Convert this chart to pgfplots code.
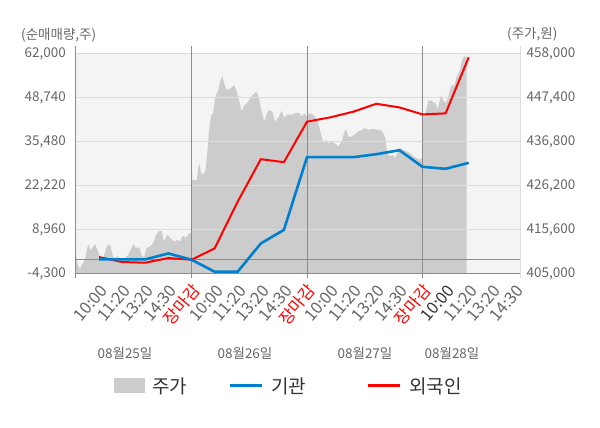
\documentclass[border=0pt]{standalone}
\usepackage{pgfplots}
\pgfplotsset{compat=1.18}
\usepackage{fontspec}
\setmainfont{Noto Sans CJK KR}
\definecolor{bgc}{HTML}{F4F4F4}
\definecolor{areac}{HTML}{CCCCCC}
\definecolor{gridc}{HTML}{DCDCDC}
\definecolor{axc}{HTML}{8C8C8C}
\definecolor{txt}{HTML}{666666}
\definecolor{dark}{HTML}{333333}
\definecolor{blu}{HTML}{0080CC}
\definecolor{rd}{HTML}{FF0000}
\newcommand{\fs}{\fontsize{13.5}{14}\selectfont}
\newcommand{\lfs}{\fontsize{19}{19}\selectfont}
\begin{document}
\begin{tikzpicture}[x=1pt,y=1pt]
\useasboundingbox (0,0) rectangle (600,428);
% price (right axis)
\begin{axis}[at={(76pt,154pt)}, anchor=south west, scale only axis,
  width=444pt, height=220pt, xmin=0, xmax=444, ymin=405000, ymax=458000,
  axis x line=none, axis y line*=right, y axis line style={draw=none},
  ytick={405000,415600,426200,436800,447400,458000},
  yticklabels={{405,000},{415,600},{426,200},{436,800},{447,400},{458,000}},
  major tick length=0pt, scaled y ticks=false,
  yticklabel style={font=\fs, text=txt, inner sep=0pt, xshift=6.5pt},
  axis background/.style={fill=bgc}, clip=true]
\addplot[draw=none, fill=areac] coordinates {
(0,410100)(1.3,407600)(4,406100)(5.7,407200)(9,408400)(10.7,410600)(12.3,412200)(14.7,410800)(17.3,411600)(19,412200)(21.3,410800)(24,409300)(27.3,408700)(30,411200)(32.3,412200)(34.7,411600)(36.7,409300)(39,408800)(41.3,409300)(44,408500)(47.3,408500)(52.3,409600)(54.7,410800)(57.3,412200)(60,411300)(63.3,411400)(65.7,409600)(68,409000)(70.7,411300)(74,411600)(77.3,412500)(80,414400)(82.3,415200)(85.7,415400)(88,412800)(91.3,414400)(94.7,413600)(98,412800)(101.3,413200)(104,412800)(106.7,414200)(110,413800)(113.3,414800)(115,414900)
(115.5,433300)(116.3,427600)(120.7,427600)(122.3,430700)(123.7,431500)(125,429300)(127.3,429100)(129.7,430100)(131.7,435300)(133,439300)(135,443300)(137.3,443700)(139,447300)(140.7,448500)(142.3,449300)(144,451300)(146.3,452700)(148.3,450900)(150.7,449300)(153,449500)(155.7,450000)(158.3,450500)(160.7,448900)(163,446900)(165.7,444100)(168.3,445700)(171.7,446300)(175,447700)(178.3,448500)(180.7,448900)(183,447300)(185.7,444100)(188.3,441700)(190.7,443500)(193,444500)(196.3,444100)(199,441700)(202.3,442700)(205.7,444300)(208.3,442700)(211.7,443500)(215,443300)(219,443700)(223,443900)(225.7,442900)(228.3,443700)(230.7,442900)
(231,443300)(234,443700)(237.3,443300)(240,442500)(242.3,441300)(244.7,438900)(247.3,436500)(250,437300)(252.3,436500)(255.7,436900)(259,436500)(262.3,435700)(265.7,436900)(268,438900)(270,439900)(272.3,438100)(275.7,438100)(279,438700)(282.3,439300)(285.7,439700)(289,440100)(292.3,439700)(295.7,439900)(299,439900)(302.3,439700)(304.7,439700)(307.3,438900)(309.3,437700)(311.3,434100)(314,433300)(316.7,433700)(319,432900)(321.3,434100)(324,435300)(327.3,434900)(330.7,434500)(334,434100)(337.3,433300)(340.7,432900)(344,432500)(346,432900)
(347,443300)(349,443300)(350.7,444900)(352.3,446900)(354,446500)(355.7,446900)(357.3,446300)(359.7,446100)(361.7,444500)(363,446100)(365,448100)(367.3,446900)(369.7,446100)(372.3,447700)(374,449300)(375.7,450500)(377.3,450100)(379,450900)(380.7,452500)(382.3,453300)(384,454100)(385.7,456100)(387.3,457200)(389,457500)(390.7,457200)
} \closedcycle;
\end{axis}
% net buying (left axis)
\begin{axis}[at={(76pt,154pt)}, anchor=south west, scale only axis,
  width=444pt, height=220pt, xmin=0, xmax=444, ymin=-4300, ymax=62000,
  axis x line*=bottom, axis y line*=left, axis line style={draw=axc, line width=1pt},
  ytick={-4300,8960,22220,35480,48740,62000},
  yticklabels={{-4,300},{8,960},{22,220},{35,480},{48,740},{62,000}},
  ymajorgrids, grid style={draw=gridc, line width=1pt},
  major tick length=0pt, scaled y ticks=false,
  yticklabel style={font=\fs, text=txt, inner sep=0pt, xshift=-10pt},
  xtick={23.1,46.2,69.3,92.4,115.5,138.6,161.7,184.8,207.9,231,254.1,277.2,300.3,323.4,346.5,369.6,392.7,415.8,438.9},
  xticklabels={10:00,11:20,13:20,14:30,\textcolor{rd}{장마감},10:00,11:20,13:20,14:30,\textcolor{rd}{장마감},10:00,11:20,13:20,14:30,\textcolor{rd}{장마감},\textcolor{dark}{10:00},11:20,13:20,14:30},
  xticklabel style={font=\fontsize{16.5}{17}\selectfont, text=txt, anchor=base east, inner sep=0pt, xshift=9.5pt, yshift=-17pt, rotate=50},
  clip=false]
\draw[axc, line width=1pt] (axis cs:0,0) -- (axis cs:444,0);
\draw[axc, line width=1pt] (axis cs:0,-5500) -- (axis cs:0,64400);
\draw[gridc, line width=1pt] (axis cs:444,-5500) -- (axis cs:444,64400);
\draw[axc, line width=1pt] (axis cs:115.5,-5500) -- (axis cs:115.5,64400);
\draw[axc, line width=1pt] (axis cs:231,-5500) -- (axis cs:231,64400);
\draw[axc, line width=1pt] (axis cs:346.5,-5500) -- (axis cs:346.5,64400);
\addplot[rd, line width=2pt, mark=none] coordinates {
(23.1,800)(46.2,-700)(69.3,-900)(92.4,500)(115.5,0)(138.6,3400)(161.7,17500)(184.8,30300)(207.9,29400)(231,41600)(254.1,42900)(277.2,44600)(300.3,47000)(323.4,45900)(346.5,43800)(369.6,44100)(392.7,61000)};
\addplot[blu, line width=2.6pt, mark=none] coordinates {
(23.1,100)(46.2,100)(69.3,100)(92.4,1900)(115.5,0)(138.6,-3600)(161.7,-3600)(184.8,4900)(207.9,9000)(231,30900)(254.1,30900)(277.2,30900)(300.3,31800)(323.4,33000)(346.5,28000)(369.6,27400)(392.7,29200)};
\end{axis}
% titles
\node[anchor=west, inner sep=0pt, text=txt, font=\fs] at (21,393) {(순매매량,주)};
\node[anchor=west, inner sep=0pt, text=txt, font=\fs] at (507,394) {(주가,원)};
% day labels
\node[text=txt, font=\fs, inner sep=0pt] at (125,75) {08월25일};
\node[text=txt, font=\fs, inner sep=0pt] at (245,75) {08월26일};
\node[text=txt, font=\fs, inner sep=0pt] at (365,75) {08월27일};
\node[text=txt, font=\fs, inner sep=0pt] at (452,75) {08월28일};
% legend
\fill[areac] (114,35) rectangle (145,50);
\node[anchor=west, inner sep=0pt, text=dark, font=\lfs] at (152,41.5) {주가};
\draw[blu, line width=2.5pt] (230,42.3) -- (262,42.3);
\node[anchor=west, inner sep=0pt, text=dark, font=\lfs] at (271,41.5) {기관};
\draw[rd, line width=2.5pt] (368,42.3) -- (400,42.3);
\node[anchor=west, inner sep=0pt, text=dark, font=\lfs] at (409,41.5) {외국인};
\end{tikzpicture}
\end{document}
